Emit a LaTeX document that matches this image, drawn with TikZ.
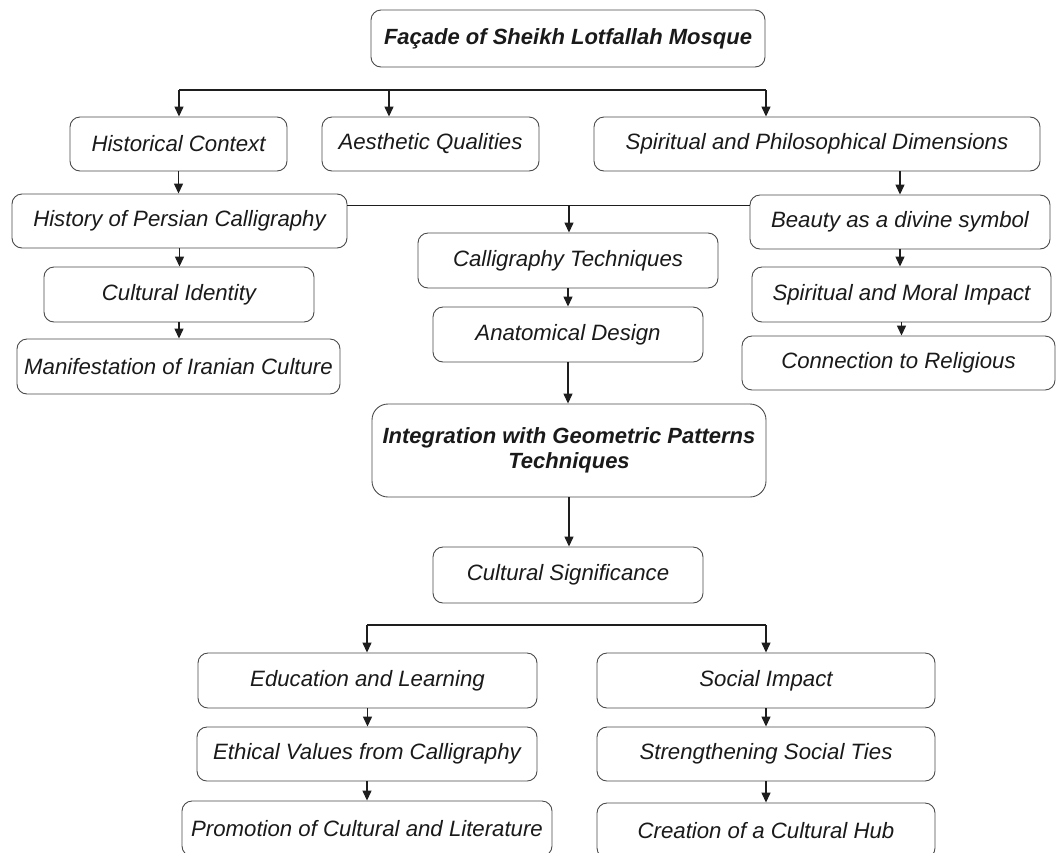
\documentclass[tikz,border=0pt]{standalone}
\usepackage{fontspec}
\setmainfont{Liberation Sans}
\usetikzlibrary{arrows.meta}
\definecolor{boxc}{HTML}{4A4A4A}
\definecolor{arrc}{HTML}{1E1E1E}
\definecolor{txtc}{HTML}{1A1A1A}
\begin{document}
\begin{tikzpicture}[x=1pt,y=-1pt,
  box/.style={draw=boxc, line width=0.9pt, rounded corners=10pt, fill=white,
    inner sep=0pt, text=txtc, align=center,
    font=\fontsize{22.2}{25}\selectfont\itshape},
  boldbox/.style={box, font=\fontsize{22}{25}\selectfont\bfseries\itshape},
  arr/.style={draw=arrc, line width=1.3pt, -{Triangle[length=10pt,width=9pt]}},
  bus/.style={draw=arrc, line width=2.2pt, line cap=square},
  link/.style={draw=arrc, line width=1.4pt}]
\fill[white] (0,0) rectangle (1057,852);
\useasboundingbox (0,0) rectangle (1057,852);

% nodes
\node[boldbox, minimum width=394pt, minimum height=57pt] (fac) at (568,38.5) {Façade of Sheikh Lotfallah Mosque};
\node[box, minimum width=217pt, minimum height=54pt] (hc) at (178.5,144) {Historical Context};
\node[box, minimum width=217pt, minimum height=54pt] (aq) at (430.5,144) {Aesthetic Qualities};
\node[box, minimum width=446pt, minimum height=54pt] (sp) at (817,144) {Spiritual and Philosophical Dimensions};
\node[box, minimum width=335pt, minimum height=54pt] (hpc) at (179.5,221) {History of Persian Calligraphy};
\node[box, minimum width=300pt, minimum height=54pt] (bd) at (900,222) {Beauty as a divine symbol};
\node[box, minimum width=300pt, minimum height=55pt] (ct) at (568,260.5) {Calligraphy Techniques};
\node[box, minimum width=270pt, minimum height=55pt] (ad) at (568,334.5) {Anatomical Design};
\node[box, minimum width=270pt, minimum height=55pt] (ci) at (179,294.5) {Cultural Identity};
\node[box, minimum width=323pt, minimum height=55pt] (mic) at (178.5,366.5) {Manifestation of Iranian Culture};
\node[box, minimum width=299pt, minimum height=55pt] (smi) at (901.5,294.5) {Spiritual and Moral Impact};
\node[box, minimum width=313pt, minimum height=54pt] (cr) at (898.5,363) {Connection to Religious};
\node[boldbox, rounded corners=16pt, minimum width=394pt, minimum height=93pt] (ig) at (569,450.5) {Integration with Geometric Patterns\\Techniques};
\node[box, minimum width=270pt, minimum height=56pt] (cs) at (568,575) {Cultural Significance};
\node[box, minimum width=339pt, minimum height=55pt] (el) at (367.5,680.5) {Education and Learning};
\node[box, minimum width=340pt, minimum height=54pt] (ev) at (367,754) {Ethical Values from Calligraphy};
\node[box, minimum width=370pt, minimum height=55pt] (pcl) at (367,828.5) {Promotion of Cultural and Literature};
\node[box, minimum width=338pt, minimum height=55pt] (si) at (766,680.5) {Social Impact};
\node[box, minimum width=338pt, minimum height=54pt] (st) at (766,754) {Strengthening Social Ties};
\node[box, minimum width=338pt, minimum height=55pt] (ch) at (766,830.5) {Creation of a Cultural Hub};

% top bus
\coordinate (b1L) at (179,90);
\coordinate (b1M) at (389,90);
\coordinate (b1R) at (766,90);
\draw[bus] (b1L) -- (b1R);
\draw[arr] (b1L) -- (b1L |- hc.north);
\draw[arr] (b1M) -- (b1M |- aq.north);
\draw[arr] (b1R) -- (b1R |- sp.north);

% left column
\draw[arr] (hc.south) -- (hc.south |- hpc.north);
\draw[arr] (hpc.south) -- (hpc.south |- ci.north);
\draw[arr] (ci.south) -- (ci.south |- mic.north);

% right column
\draw[arr] (sp.south -| bd.north) -- (bd.north);
\draw[arr] (bd.south) -- (bd.south |- smi.north);
\draw[arr] (smi.south) -- (smi.south |- cr.north);

% middle link
\coordinate (mL) at ([yshift=-12pt]hpc.north east);
\coordinate (mR) at ([yshift=-11pt]bd.north west);
\coordinate (mj) at (569,206);
\draw[link] (mL) -- (mR);
\draw[arr] (mj) -- (mj |- ct.north);
\draw[arr] (ct.south) -- (ad.north);
\draw[arr] (ad.south) -- (ad.south |- ig.north);
\draw[arr] (ig.south) -- (ig.south |- cs.north);

% bottom bus
\coordinate (b2L) at (367,625);
\coordinate (b2R) at (766,625);
\draw[bus] (b2L) -- (b2R);
\draw[arr] (b2L) -- (b2L |- el.north);
\draw[arr] (b2R) -- (b2R |- si.north);
\draw[arr] (el.south) -- (el.south |- ev.north);
\draw[arr] (ev.south) -- (ev.south |- pcl.north);
\draw[arr] (si.south) -- (si.south |- st.north);
\draw[arr] (st.south) -- (st.south |- ch.north);
\end{tikzpicture}
\end{document}
